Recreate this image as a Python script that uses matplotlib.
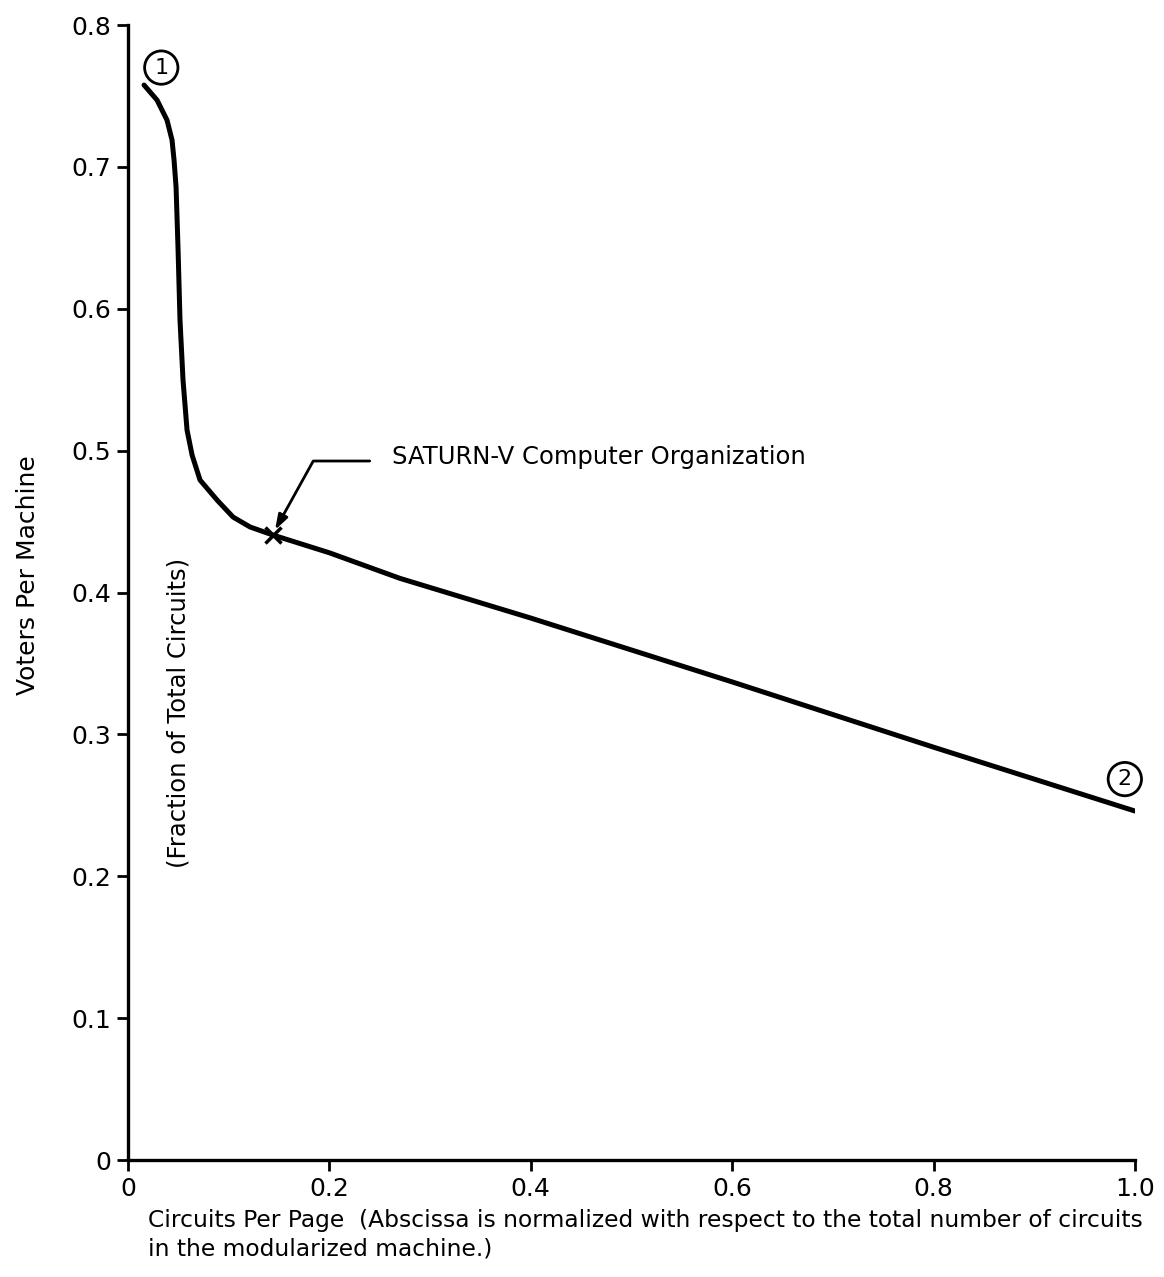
import matplotlib
matplotlib.use('Agg')
import matplotlib.pyplot as plt

# voters per machine vs. circuits per page (normalized)
circuits_per_page = [0.0159, 0.0288, 0.0387, 0.0437, 0.0457, 0.0477, 0.0497,
                     0.0516, 0.0546, 0.0586, 0.0636, 0.0715, 0.0884, 0.1043,
                     0.1212, 0.1440, 0.20, 0.27, 0.40, 0.60, 0.80, 1.00]
voters_per_machine = [0.7577, 0.7471, 0.7330, 0.7189, 0.7048, 0.6858, 0.6414,
                      0.5921, 0.5498, 0.5145, 0.4969, 0.4793, 0.4652, 0.4532,
                      0.4462, 0.4405, 0.428, 0.410, 0.382, 0.337, 0.291, 0.246]

saturn_x, saturn_y = 0.1440, 0.4405
arrow_tip = (0.146, 0.4441)
saturn_label = 'SATURN-V Computer Organization'

x_ticks = [0, 0.2, 0.4, 0.6, 0.8, 1.0]
x_ticklabels = ['0', '0.2', '0.4', '0.6', '0.8', '1.0']
y_ticks = [0, 0.1, 0.2, 0.3, 0.4, 0.5, 0.6, 0.7, 0.8]
y_ticklabels = ['0', '0.1', '0.2', '0.3', '0.4', '0.5', '0.6', '0.7', '0.8']

plt.rcParams['font.family'] = ['DejaVu Sans']

fig = plt.figure(figsize=(11.64, 12.77), dpi=100)
ax = fig.add_axes([0.110, 0.0916, 0.865, 0.8888])

ax.plot(circuits_per_page, voters_per_machine, color='black', lw=3.6,
        solid_capstyle='round', solid_joinstyle='round')
ax.plot([saturn_x], [saturn_y], marker='x', color='black', ms=11, mew=2.5)

# leader line + arrow to the SATURN-V point
ax.annotate('', xy=arrow_tip, xytext=(0.240, 0.4927),
            arrowprops=dict(arrowstyle='-|>,head_length=0.9,head_width=0.3',
                            color='black', lw=2,
                            connectionstyle='angle,angleA=0,angleB=61,rad=0',
                            shrinkA=0, shrinkB=0))
ax.text(0.262, 0.4955, saturn_label, fontsize=17.5, va='center', ha='left')

# curve end markers
ax.text(0.033, 0.770, '1', fontsize=16, ha='center', va='center',
        bbox=dict(boxstyle='circle,pad=0.3', fc='white', ec='black', lw=2))
ax.text(0.990, 0.2685, '2', fontsize=16, ha='center', va='center',
        bbox=dict(boxstyle='circle,pad=0.3', fc='white', ec='black', lw=2))

ax.text(0.050, 0.315, '(Fraction of Total Circuits)', rotation=90,
        fontsize=17.5, ha='center', va='center')

ax.set_xlim(0, 1.0)
ax.set_ylim(0, 0.8)
ax.set_xticks(x_ticks)
ax.set_xticklabels(x_ticklabels)
ax.set_yticks(y_ticks)
ax.set_yticklabels(y_ticklabels)
ax.tick_params(axis='both', direction='out', length=8, width=2,
               labelsize=18, pad=4)

for side in ['top', 'right']:
    ax.spines[side].set_visible(False)
for side in ['left', 'bottom']:
    ax.spines[side].set_linewidth(2.4)

ax.set_ylabel('Voters Per Machine', fontsize=18)
ax.yaxis.set_label_coords(-0.087, 0.515)

fig.text(0.127, 0.033,
         'Circuits Per Page  (Abscissa is normalized with respect to the total number of circuits\n'
         'in the modularized machine.)',
         fontsize=16.8, ha='left', va='center', linespacing=1.3)

fig.savefig('out.png', dpi=100)
